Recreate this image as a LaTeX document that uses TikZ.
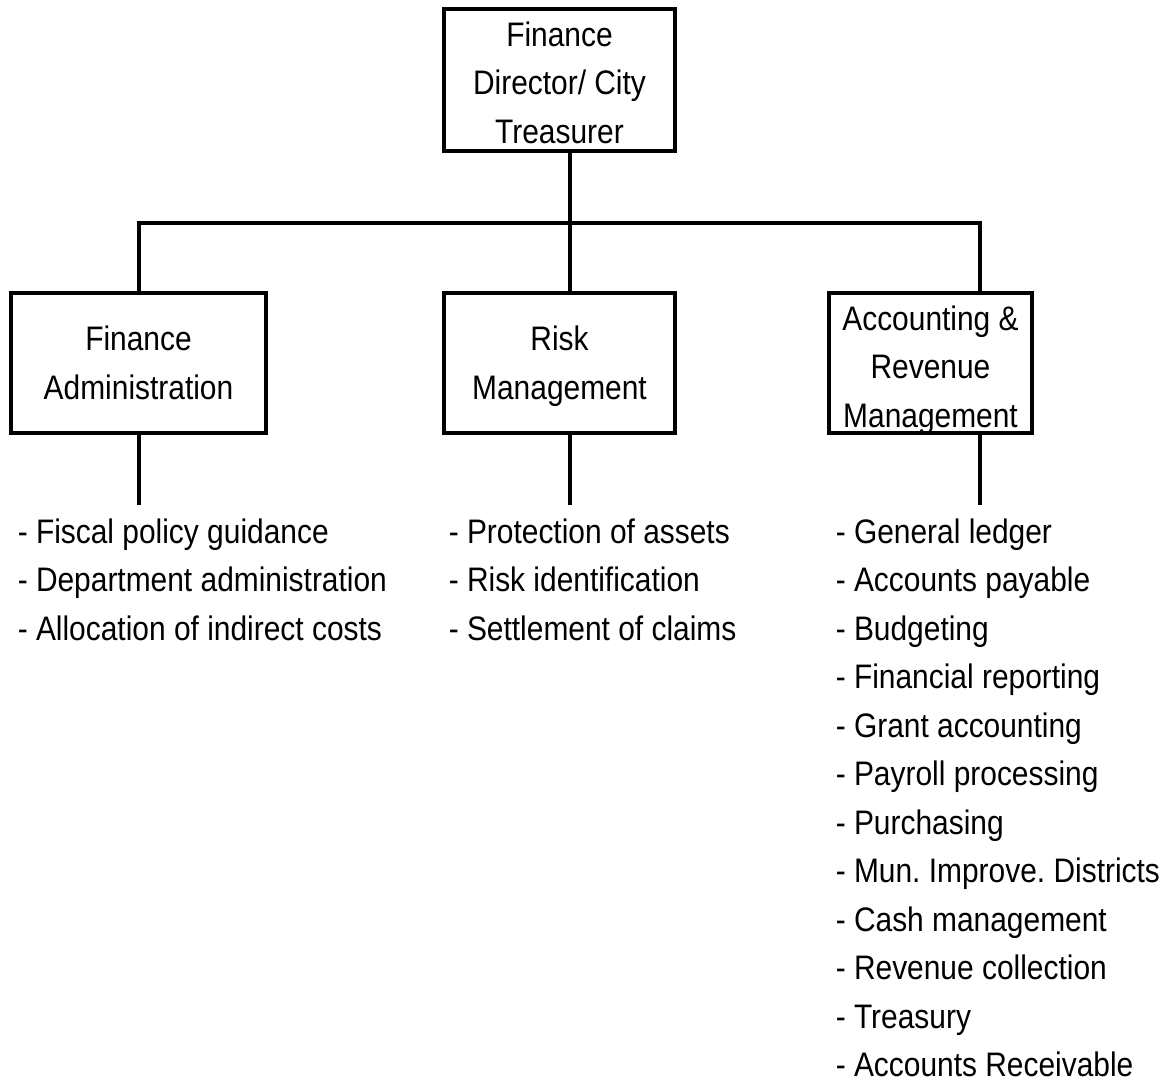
\documentclass[tikz,border=0pt]{standalone}
\usepackage{fontspec}
\setmainfont{Liberation Sans}[FakeStretch=0.88]
\frenchspacing

\begin{document}
\begin{tikzpicture}[x=1pt,y=-1pt,line width=3.5pt,
    unitbox/.style={draw,inner sep=0pt,align=center,text depth=0pt,
      font=\fontsize{34}{48.5}\selectfont},
    duty/.style={anchor=base west,inner sep=0pt,font=\fontsize{34}{40}\selectfont}]
  \useasboundingbox (0,0) rectangle (1166,1084);

  % boxes
  \node[unitbox,minimum width=231pt,minimum height=142pt,text height=126pt] (dir)
    at (559.5,80) {Finance\\Director/ City\\Treasurer};
  \node[unitbox,minimum width=255pt,minimum height=140pt,text height=72pt] (fin)
    at (138.5,363) {Finance\\Administration};
  \node[unitbox,minimum width=231pt,minimum height=140pt,text height=72pt] (risk)
    at (559.5,363) {Risk\\Management};
  \node[unitbox,minimum width=203pt,minimum height=140pt,text height=128pt] (acct)
    at (930.5,363) {Accounting \&\\Revenue\\Management};

  % tree lines
  \coordinate (hub) at (570,223);
  \coordinate (busL) at (139,223);
  \coordinate (busR) at (980,223);
  \draw (dir.south -| hub) -- (hub);
  \draw (fin.north -| busL) -- (busL) -- (busR) -- (acct.north -| busR);
  \draw (hub) -- (risk.north -| hub);

  \coordinate (finEnd) at (139,505);
  \coordinate (riskEnd) at (570,505);
  \coordinate (acctEnd) at (980,505);
  \draw (fin.south -| finEnd) -- (finEnd);
  \draw (risk.south -| riskEnd) -- (riskEnd);
  \draw (acct.south -| acctEnd) -- (acctEnd);

  % duties
  \foreach \txt [count=\i] in {Fiscal policy guidance,Department administration,
      Allocation of indirect costs}
    \node[duty] (fin\i) at (16,{543+(\i-1)*48.5}) {- \txt};
  \foreach \txt [count=\i] in {Protection of assets,Risk identification,
      Settlement of claims}
    \node[duty] (risk\i) at (447,{543+(\i-1)*48.5}) {- \txt};
  \foreach \txt [count=\i] in {General ledger,Accounts payable,Budgeting,
      Financial reporting,Grant accounting,Payroll processing,Purchasing,
      Mun. Improve. Districts,Cash management,Revenue collection,Treasury,
      Accounts Receivable}
    \node[duty] (acct\i) at (834,{543+(\i-1)*48.5}) {- \txt};
\end{tikzpicture}
\end{document}
